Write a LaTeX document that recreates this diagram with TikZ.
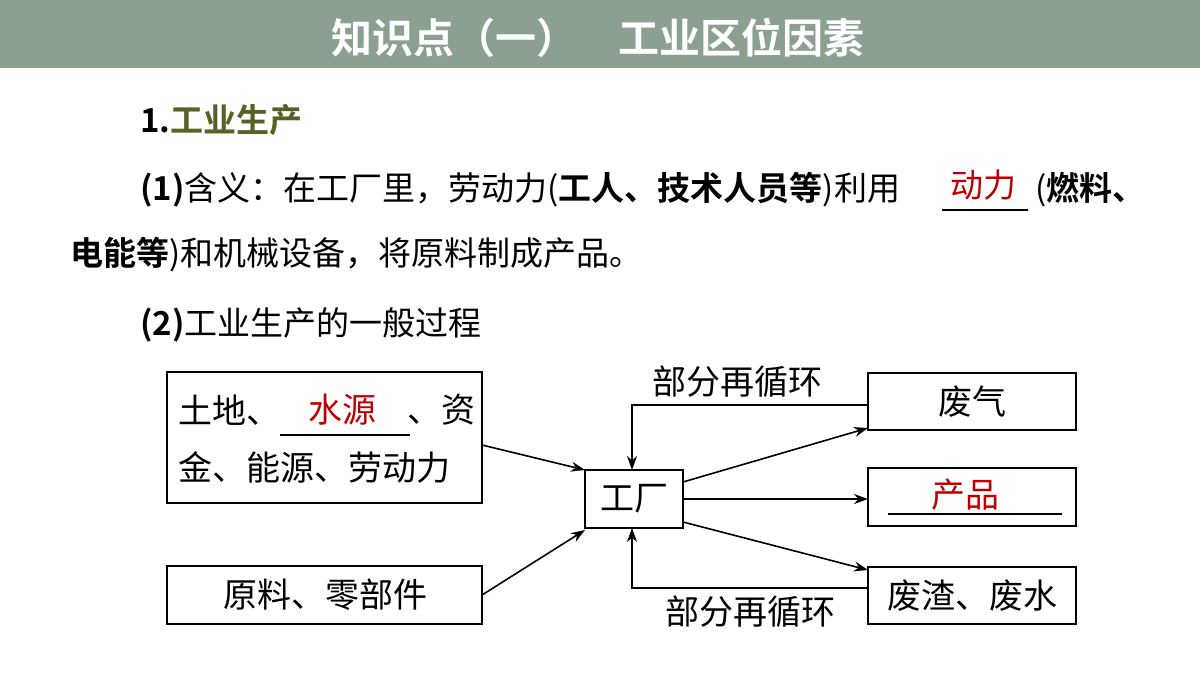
\documentclass[tikz,border=0pt]{standalone}
\usepackage{fontspec}
\setmainfont{Noto Sans CJK SC}[BoldFont={Noto Sans CJK SC Bold}]
\usetikzlibrary{arrows.meta}
\definecolor{headbg}{RGB}{140,160,146}
\definecolor{olive}{RGB}{84,98,35}
\definecolor{ansred}{RGB}{192,0,0}
\tikzset{
  box/.style={draw, line width=1pt, inner sep=0pt},
  arr/.style={-{Stealth[length=7pt,width=5pt]}, line width=0.8pt},
  txt/.style={font=\fontsize{16.5}{18}\selectfont, anchor=west, inner sep=0pt},
  big/.style={font=\fontsize{17}{19}\selectfont, inner sep=0pt},
}
\begin{document}
\begin{tikzpicture}[x=0.5pt,y=-0.5pt]
    \useasboundingbox (0,0) rectangle (1200,675);
    \fill[white] (0,0) rectangle (1200,675);

    % header
    \fill[headbg] (0,0) rectangle (1200,68);
    \node[font=\fontsize{20.5}{22}\selectfont\bfseries, text=white] (title) at (598,38) {知识点（一）\quad 工业区位因素};

    % text lines
    \node[txt] (t1) at (140,120) {\textbf{1.\textcolor{olive}{工业生产}}};
    \node[txt] (t2) at (140,190) {\textbf{(1)}含义：在工厂里，劳动力(\textbf{工人、技术人员等})利用};
    \draw[line width=0.8pt] (942,210) -- (1028,210);
    \node[txt, text=ansred] (a1) at (950,185) {动力};
    \node[txt] (t3) at (1035,190) {(\textbf{燃料、}};
    \node[txt] (t4) at (70,255) {\textbf{电能等})和机械设备，将原料制成产品。};
    \node[txt] (t5) at (140,325) {\textbf{(2)}工业生产的一般过程};

    % boxes
    \draw[box] (167,372) rectangle (482,503);
    \node[big, anchor=west] (f1) at (178,410) {土地、};
    \node[big, anchor=east] (f2) at (476,410) {、资};
    \draw[line width=0.8pt] (280,435) -- (410,435);
    \node[big, text=ansred] (f3) at (342,410) {水源};
    \node[big, anchor=west] (f4) at (178,467) {金、能源、劳动力};
    \coordinate (in1) at (482,445);

    \draw[box] (167,566) rectangle (482,624);
    \node[big] (raw) at (325,595) {原料、零部件};
    \coordinate (in2) at (482,595);

    \draw[box] (585,470) rectangle (683,528);
    \node[big] (fac) at (634,499) {工厂};

    \draw[box] (868,373) rectangle (1076,430);
    \node[big] (gas) at (972,402) {废气};
    \draw[box] (868,468) rectangle (1076,526);
    \draw[line width=0.8pt] (888,514) -- (1062,514);
    \node[big, text=ansred] (prod) at (965,495) {产品};
    \draw[box] (868,567) rectangle (1076,624);
    \node[big] (slag) at (972,596) {废渣、废水};

    % connectors
    \draw[arr] (in1) -- (585,470);
    \draw[arr] (in2) -- (585,530);
    \draw[arr] (683,482) -- (868,428);
    \draw[arr] (683,499) -- (868,499);
    \draw[arr] (683,522) -- (868,570);
    \draw[arr] (868,405) -- (632,405) -- (632,470);
    \draw[arr] (868,588) -- (632,588) -- (632,528);
    \node[big] (c1) at (737,382) {部分再循环};
    \node[big] (c2) at (750,612) {部分再循环};
\end{tikzpicture}
\end{document}
